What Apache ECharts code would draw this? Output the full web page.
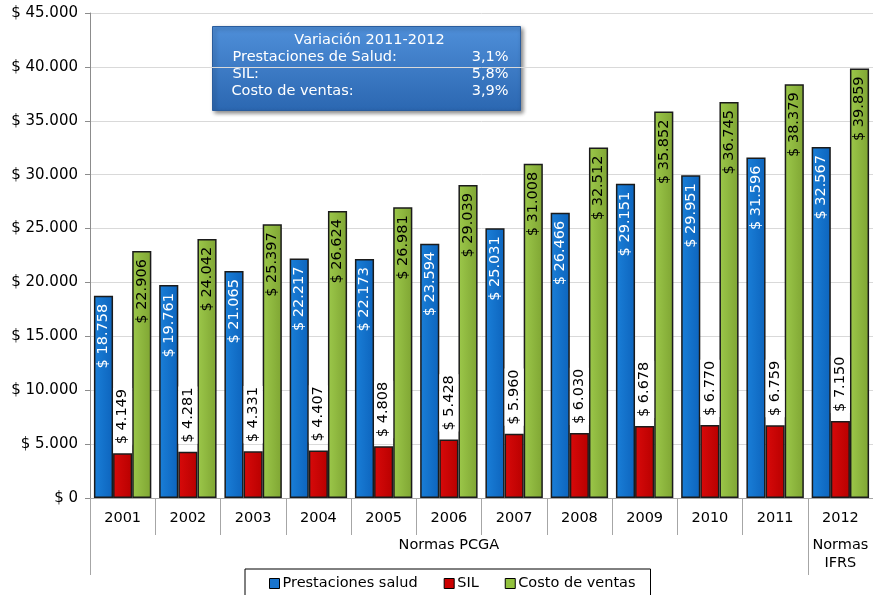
<!DOCTYPE html>
<html>
<head>
<meta charset="utf-8">
<script src="https://cdn.jsdelivr.net/npm/echarts@6/dist/echarts.min.js"></script>
<style>
  html, body { margin: 0; padding: 0; background: #fff; }
  #chart { width: 873px; height: 595px; }
</style>
</head>
<body>
<div id="chart"></div>
<script>
const years = ["2001", "2002", "2003", "2004", "2005", "2006", "2007", "2008", "2009", "2010", "2011", "2012"];
const normas = ["", "", "", "", "", "Normas PCGA", "", "", "", "", "", "Normas\nIFRS"];
const prestaciones = [18758, 19761, 21065, 22217, 22173, 23594, 25031, 26466, 29151, 29951, 31596, 32567];
const sil = [4149, 4281, 4331, 4407, 4808, 5428, 5960, 6030, 6678, 6770, 6759, 7150];
const costo = [22906, 24042, 25397, 26624, 26981, 29039, 31008, 32512, 35852, 36745, 38379, 39859];

const FONT = "DejaVu Sans";
const FS = 14.5;

// 12345 -> "$ 12.345"
const money = (v) => "$ " + String(Math.round(v)).replace(/\B(?=(\d{3})+(?!\d))/g, ".");

const grad = (a, b) => new echarts.graphic.LinearGradient(0, 0, 1, 0, [
  { offset: 0, color: a },
  { offset: 1, color: b },
]);

const barLabel = (color, position, extra) => Object.assign({
  show: true,
  rotate: 90,
  position: position,
  distance: 8,
  color: color,
  fontFamily: FONT,
  fontSize: 14.5,
  verticalAlign: "middle",
  formatter: (p) => money(p.value),
}, extra);

const chart = echarts.init(document.getElementById("chart"));
chart.setOption({
  animation: false,
  textStyle: { fontFamily: FONT },
  grid: { left: 90, right: 0, top: 13, bottom: 97 },
  legend: {
    bottom: -8,
    left: 245,
    icon: "rect",
    itemWidth: 10,
    itemHeight: 10,
    itemGap: 26,
    padding: [7, 15, 12, 24],
    borderColor: "#000",
    borderWidth: 1,
    textStyle: { fontFamily: FONT, fontSize: FS, color: "#000", padding: [0, 0, 0, -2] },
    data: [
      { name: "Prestaciones salud", itemStyle: { color: "#1874cd", borderColor: "#000", borderWidth: 1 } },
      { name: "SIL", itemStyle: { color: "#cc0000", borderColor: "#000", borderWidth: 1 } },
      { name: "Costo de ventas", itemStyle: { color: "#92c23e", borderColor: "#000", borderWidth: 1 } },
    ],
  },
  xAxis: [
    {
      type: "category",
      data: years,
      position: "bottom",
      axisLine: { lineStyle: { color: "#a6a6a6" } },
      axisTick: { show: true, length: 37, lineStyle: { color: "#a6a6a6" } },
      axisLabel: { color: "#000", fontFamily: FONT, fontSize: FS, margin: 13 },
    },
    {
      type: "category",
      data: normas,
      position: "bottom",
      axisLine: { show: false },
      axisTick: {
        show: true,
        length: 77,
        interval: (i) => i === 0 || i === 11,
        lineStyle: { color: "#a6a6a6" },
      },
      axisLabel: { color: "#000", fontFamily: FONT, fontSize: FS, margin: 38, interval: 0, lineHeight: 18, verticalAlign: "top" },
    },
  ],
  yAxis: {
    type: "value",
    min: 0,
    max: 45000,
    interval: 5000,
    axisLine: { show: true, lineStyle: { color: "#8c8c8c" } },
    axisTick: { show: true, length: 5, lineStyle: { color: "#8c8c8c" } },
    splitLine: { lineStyle: { color: "#d9d9d9" } },
    axisLabel: { color: "#000", fontFamily: FONT, fontSize: 15, margin: 12, formatter: money },
  },
  series: [
    {
      name: "Prestaciones salud",
      type: "bar",
      data: prestaciones,
      barGap: "0%",
      barCategoryGap: "12%",
      itemStyle: { color: grad("#1a7fd8", "#0d64bd"), borderColor: "#1b1b1b", borderWidth: 1.5 },
      label: barLabel("#fff", "insideTop", { align: "right" }),
    },
    {
      name: "SIL",
      type: "bar",
      data: sil,
      itemStyle: { color: grad("#d80a0a", "#b80000"), borderColor: "#1b1b1b", borderWidth: 1.5 },
      label: barLabel("#000", "top", { align: "left", backgroundColor: "#fff", padding: [2, 1, 2, 1] }),
    },
    {
      name: "Costo de ventas",
      type: "bar",
      data: costo,
      itemStyle: { color: grad("#9cc84a", "#7fa533"), borderColor: "#1b1b1b", borderWidth: 1.5 },
      label: barLabel("#000", "insideTop", { align: "right" }),
    },
  ],
  graphic: [
    {
      type: "group",
      left: 212,
      top: 26,
      z: 100,
      children: [
        {
          type: "rect",
          shape: { x: 0, y: 0, width: 308, height: 84 },
          style: {
            fill: new echarts.graphic.LinearGradient(0, 0, 0, 1, [
              { offset: 0, color: "#4f8fd9" },
              { offset: 1, color: "#2b67b1" },
            ]),
            stroke: "#2a5c9c",
            lineWidth: 1,
            shadowBlur: 4,
            shadowOffsetX: 2,
            shadowOffsetY: 2,
            shadowColor: "rgba(0,0,0,0.45)",
          },
        },
        { type: "text", x: 157, y: 6, style: { text: "Variación 2011-2012", fill: "#fff", font: FS + "px " + FONT, textAlign: "center" } },
        { type: "text", x: 20, y: 23, style: { text: "Prestaciones de Salud:", fill: "#fff", font: FS + "px " + FONT } },
        { type: "text", x: 20, y: 40, style: { text: "SIL:", fill: "#fff", font: FS + "px " + FONT } },
        { type: "text", x: 19, y: 57, style: { text: "Costo de ventas:", fill: "#fff", font: FS + "px " + FONT } },
        { type: "text", x: 296, y: 23, style: { text: "3,1%", fill: "#fff", font: FS + "px " + FONT, textAlign: "right" } },
        { type: "text", x: 296, y: 40, style: { text: "5,8%", fill: "#fff", font: FS + "px " + FONT, textAlign: "right" } },
        { type: "text", x: 296, y: 57, style: { text: "3,9%", fill: "#fff", font: FS + "px " + FONT, textAlign: "right" } },
      ],
    },
  ],
});
</script>
</body>
</html>
